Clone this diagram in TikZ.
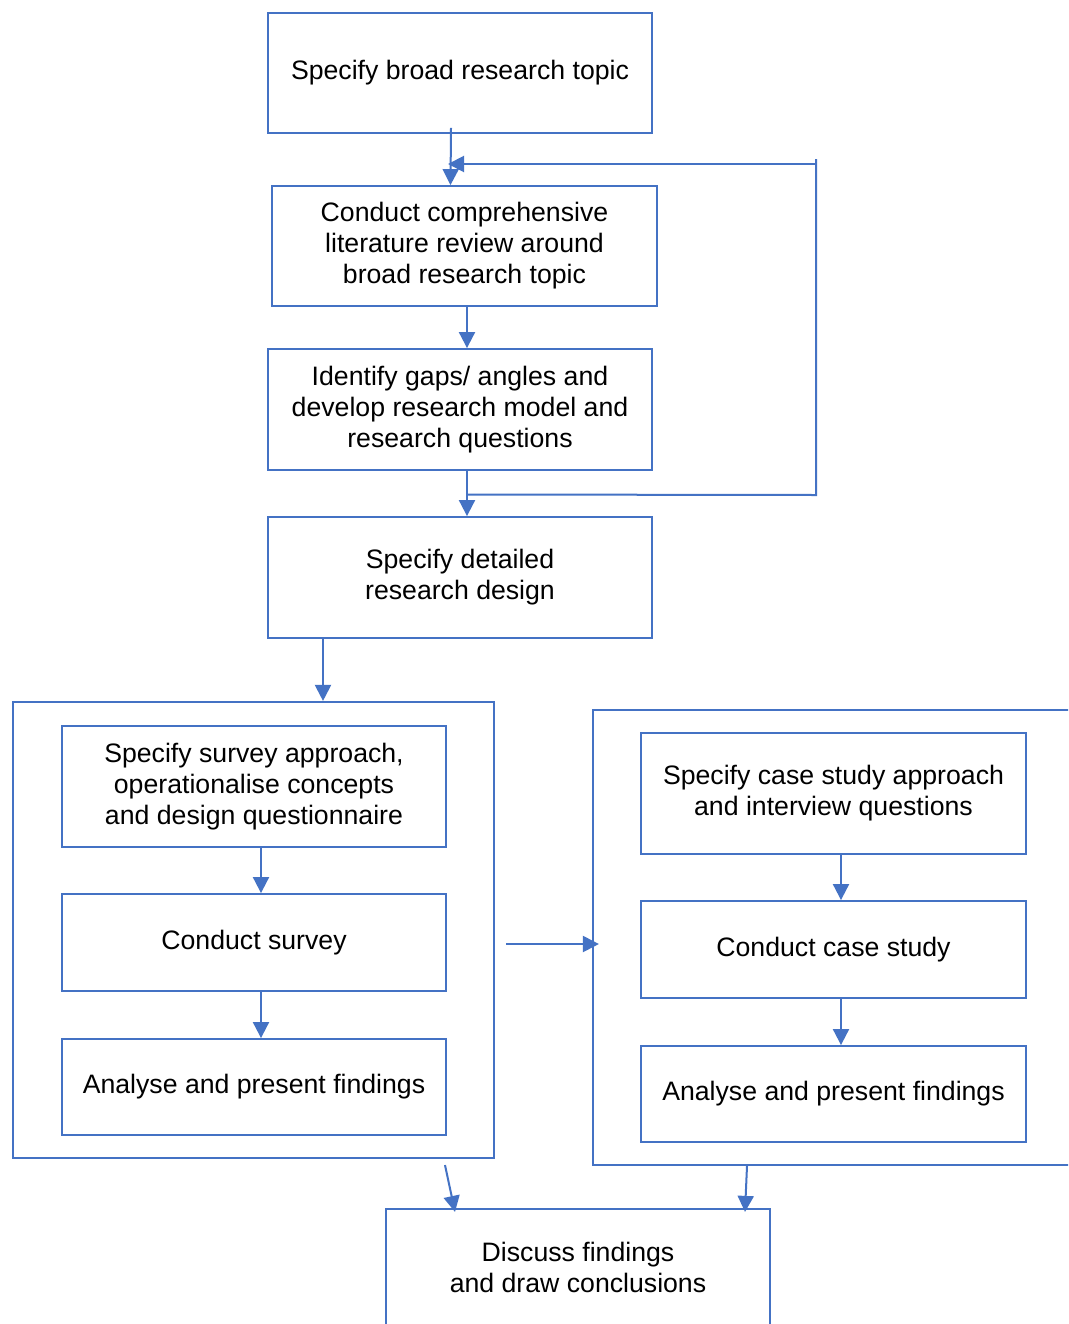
\documentclass[tikz,border=0pt]{standalone}
\usepackage{fontspec}
\setmainfont{Liberation Sans}
\usetikzlibrary{arrows.meta,calc}
\definecolor{flowblue}{HTML}{4472C4}
\begin{document}
\begin{tikzpicture}[x=0.75pt,y=-0.75pt,
  box/.style={draw=flowblue,line width=1.4pt,rectangle,align=center,inner sep=0pt,
    font=\fontsize{20pt}{23.25pt}\selectfont,text=black},
  frame/.style={draw=flowblue,line width=1.6pt,rectangle,inner sep=0pt},
  arr/.style={draw=flowblue,line width=1.5pt,-{Triangle[length=12pt,width=12pt]}},
  link/.style={draw=flowblue,line width=1.5pt}]
\clip (0,0) rectangle (1068,1324);
\fill[white] (0,0) rectangle (1068,1324);

% main sequence
\node[box,minimum width=288pt,minimum height=90pt] (topic) at (460,73) {Specify broad research topic};
\node[box,minimum width=288.75pt,minimum height=90pt] (review) at (464.5,246) {Conduct comprehensive\\literature review around\\broad research topic};
\node[box,minimum width=288pt,minimum height=90.75pt] (gaps) at (460,409.5) {Identify gaps/ angles and\\develop research model and\\research questions};
\node[box,minimum width=288pt,minimum height=90.75pt] (design) at (460,577.5) {Specify detailed\\research design};

% survey branch
\node[frame,minimum width=360.75pt,minimum height=342pt] (survey) at (253.5,930) {};
\node[box,minimum width=288pt,minimum height=90.75pt] (sa) at (254,786.5) {Specify survey approach,\\operationalise concepts\\and design questionnaire};
\node[box,minimum width=288pt,minimum height=72.75pt] (sb) at (254,942.5) {Conduct survey};
\node[box,minimum width=288pt,minimum height=72pt] (sc) at (254,1087) {Analyse and present findings};

% case study branch
\node[frame,minimum width=375pt,minimum height=341.25pt] (casestudy) at (843,937.5) {};
\node[box,minimum width=288.75pt,minimum height=90.75pt] (ca) at (833.5,793.5) {Specify case study approach\\and interview questions};
\node[box,minimum width=288.75pt,minimum height=72.75pt] (cb) at (833.5,949.5) {Conduct case study};
\node[box,minimum width=288.75pt,minimum height=72pt] (cc) at (833.5,1094) {Analyse and present findings};

% conclusions
\node[box,minimum width=288pt,minimum height=88pt] (discuss) at (578,1267.5) {Discuss findings\\and draw conclusions};

% connectors
\draw[arr] ($(topic.south)+(-9,-6)$) -- ($(review.north)+(-14,0)$);
\draw[arr] ($(review.south)+(2.5,0)$) -- ($(gaps.north)+(7,0)$);
\draw[arr] ($(gaps.south)+(7,0)$) -- ($(design.north)+(7,0)$);
\draw[arr] ($(design.south)+(-137,0)$) -- ($(survey.north)+(69.5,0)$);
\draw[arr] ($(sa.south)+(7,0)$) -- ($(sb.north)+(7,0)$);
\draw[arr] ($(sb.south)+(7,0)$) -- ($(sc.north)+(7,0)$);
\draw[arr] ($(ca.south)+(7.5,0)$) -- ($(cb.north)+(7.5,0)$);
\draw[arr] ($(cb.south)+(7.5,0)$) -- ($(cc.north)+(7.5,0)$);
\draw[arr] ($(survey.east)+(11,14)$) -- ($(casestudy.west)+(7,6.5)$);
\draw[arr] ($(survey.south)+(191.5,6)$) -- ($(discuss.north)+(-123,4)$);
\draw[arr] ($(casestudy.south)+(-96,0)$) -- ($(discuss.north)+(167,4)$);

% feedback loop back to the literature review
\coordinate (loopstart) at (467,494.5);
\coordinate (loopcorner1) at (816,495);
\coordinate (loopcorner2) at (816,159);
\coordinate (looptop) at (816,164);
\coordinate (loopend) at (448,164);
\draw[link] (loopstart) -- (loopcorner1) -- (loopcorner2);
\draw[arr] (looptop) -- (loopend);
\end{tikzpicture}
\end{document}
